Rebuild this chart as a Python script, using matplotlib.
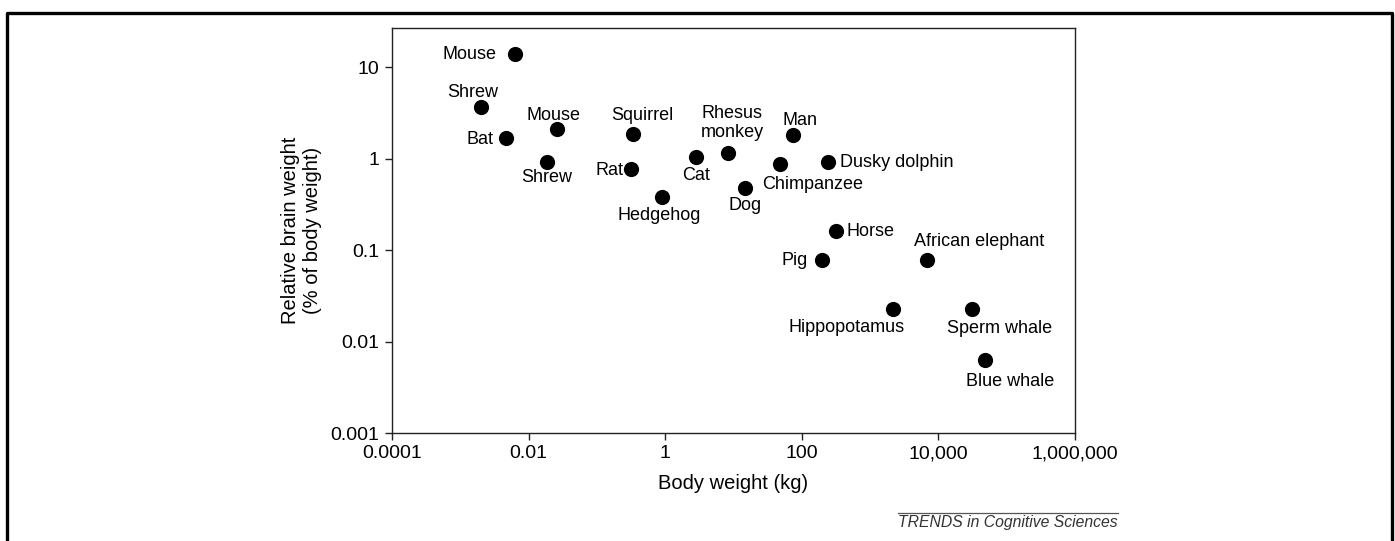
import matplotlib
matplotlib.use("Agg")
import matplotlib.pyplot as plt
from matplotlib.lines import Line2D
from matplotlib.ticker import FixedLocator, FixedFormatter, NullLocator

plt.rcParams["font.family"] = ["Liberation Sans", "DejaVu Sans"]

# body weight (kg) and relative brain weight (% of body weight)
animals = [
    "Mouse", "Shrew", "Bat", "Mouse", "Shrew", "Squirrel", "Rat", "Hedgehog",
    "Cat", "Rhesus\nmonkey", "Dog", "Chimpanzee", "Man", "Dusky dolphin",
    "Horse", "Pig", "African elephant", "Hippopotamus", "Sperm whale", "Blue whale",
]
body_kg = [
    0.0063, 0.0020, 0.0047, 0.026, 0.0186, 0.34, 0.32, 0.90,
    2.8, 8.3, 14.7, 48, 74, 242,
    316, 198, 6800, 2160, 31000, 48000,
]
brain_pct = [
    14.2, 3.7, 1.67, 2.1, 0.93, 1.89, 0.78, 0.386,
    1.06, 1.17, 0.485, 0.87, 1.8, 0.93,
    0.164, 0.079, 0.079, 0.0229, 0.0227, 0.0063,
]

x_ticks = [1e-4, 1e-2, 1, 1e2, 1e4, 1e6]
x_tick_labels = ["0.0001", "0.01", "1", "100", "10,000", "1,000,000"]
y_ticks = [1e-3, 1e-2, 1e-1, 1, 10]
y_tick_labels = ["0.001", "0.01", "0.1", "1", "10"]

# label placement: offset in pixels from the dot, horizontal alignment
label_pos = [
    ((-18, -1), "right"), ((-8, 14), "center"), ((-13, -1), "right"),
    ((-3, 14), "center"), ((0, -16), "center"), ((9, 18), "center"),
    ((-8, -2), "right"), ((-3, -19), "center"), ((0, -19), "center"),
    ((4, 30), "center"), ((0, -18), "center"), ((-18, -20), "left"),
    ((7, 15), "center"), ((12, -1), "left"), ((11, -1), "left"),
    ((-14, -1), "right"), ((52, 18), "center"), ((-46, -19), "center"),
    ((28, -19), "center"), ((25, -22), "center"),
]

W, H = 1395, 541
fig = plt.figure(figsize=(W / 100, H / 100), dpi=100)
ax = fig.add_axes([392 / W, 1 - 433 / H, (1075 - 392) / W, (433 - 28) / H])

ax.scatter(body_kg, brain_pct, s=120, color="black", zorder=3, linewidths=0)

px = 0.72  # points per pixel at 100 dpi
for name, x, y, ((dx, dy), ha) in zip(animals, body_kg, brain_pct, label_pos):
    ax.annotate(name, (x, y), xytext=(dx * px, dy * px), textcoords="offset points",
                ha=ha, va="center", fontsize=13, linespacing=1.15)

ax.set_xscale("log")
ax.set_yscale("log")
ax.set_xlim(1e-4, 1e6)
ax.set_ylim(1e-3, 27)
ax.xaxis.set_major_locator(FixedLocator(x_ticks))
ax.xaxis.set_major_formatter(FixedFormatter(x_tick_labels))
ax.yaxis.set_major_locator(FixedLocator(y_ticks))
ax.yaxis.set_major_formatter(FixedFormatter(y_tick_labels))
ax.xaxis.set_minor_locator(NullLocator())
ax.yaxis.set_minor_locator(NullLocator())
ax.tick_params(direction="out", length=5, width=1, colors="#222222",
               labelsize=14, labelcolor="black", pad=4)
for sp in ax.spines.values():
    sp.set_color("#222222")
    sp.set_linewidth(1)

ax.set_xlabel("Body weight (kg)", fontsize=14.5, labelpad=8)
ax.set_ylabel("Relative brain weight\n(% of body weight)", fontsize=14.5,
              labelpad=6, linespacing=1.25)

# footer
fig.add_artist(Line2D([898 / W, 1118 / W], [1 - 513 / H, 1 - 513 / H],
                      color="#555555", lw=0.9))
fig.text(1118 / W, 1 - 523 / H, "TRENDS in Cognitive Sciences", ha="right",
         va="center", fontsize=11.3, style="italic", color="#333333")

# frame open at the bottom
fig.add_artist(Line2D([7 / W, 7 / W, 1392 / W, 1392 / W],
                      [-0.05, 1 - 12.5 / H, 1 - 12.5 / H, -0.05],
                      color="black", lw=2.4))

fig.savefig("out.png", dpi=100)
